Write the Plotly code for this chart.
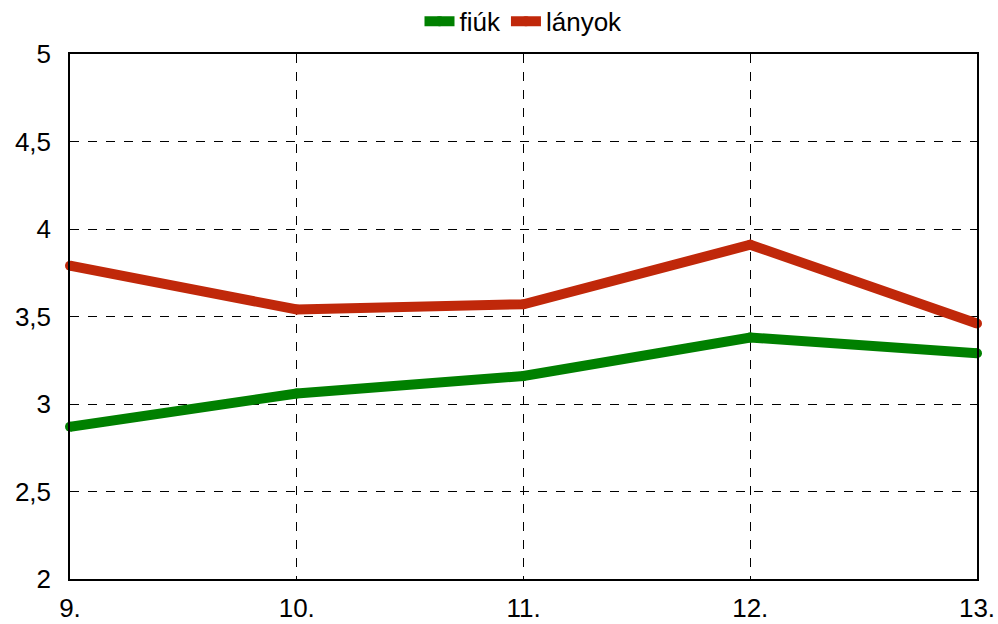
import plotly.graph_objects as go

categories = ["9.", "10.", "11.", "12.", "13."]
fiuk = [2.87, 3.06, 3.16, 3.38, 3.29]
lanyok = [3.79, 3.54, 3.57, 3.91, 3.46]

fig = go.Figure()
fig.add_trace(go.Scatter(x=categories, y=fiuk, name="fiúk", mode="lines+markers",
                         cliponaxis=False,
                         line=dict(color="#008000", width=10),
                         marker=dict(color="#008000", size=10, line=dict(width=0))))
fig.add_trace(go.Scatter(x=categories, y=lanyok, name="lányok", mode="lines+markers",
                         cliponaxis=False,
                         line=dict(color="#c0280a", width=10),
                         marker=dict(color="#c0280a", size=10, line=dict(width=0))))

FONT = "Liberation Sans, Arial"
axis_common = dict(showline=True, linecolor="black", linewidth=1.5, mirror=True,
                   showgrid=True, gridcolor="black", gridwidth=0.8, griddash="dash",
                   zeroline=False, ticks="", automargin=False,
                   tickfont=dict(family=FONT, size=26, color="black"))

fig.update_layout(
    width=998, height=624,
    margin=dict(l=70, r=21, t=54, b=45, autoexpand=False),
    paper_bgcolor="white", plot_bgcolor="white",
    font=dict(family=FONT, size=26, color="black"),
    showlegend=True,
    legend=dict(orientation="h", x=0.5, xanchor="center", y=1.062, yanchor="middle",
                bgcolor="rgba(0,0,0,0)", font=dict(size=26), tracegroupgap=0),
    xaxis=dict(**axis_common, range=[0, 4], type="category", ticklabeloverflow="allow",
               ticklabelstandoff=5),
    yaxis=dict(**axis_common, range=[2, 5], dtick=0.5, tickformat=".1~f",
               ticklabelstandoff=12),
    separators=", ",
)
fig.write_html("out.html", config={"displayModeBar": False},
               post_script="document.body.style.margin='0';document.body.style.overflow='hidden';document.documentElement.style.overflow='hidden';")
